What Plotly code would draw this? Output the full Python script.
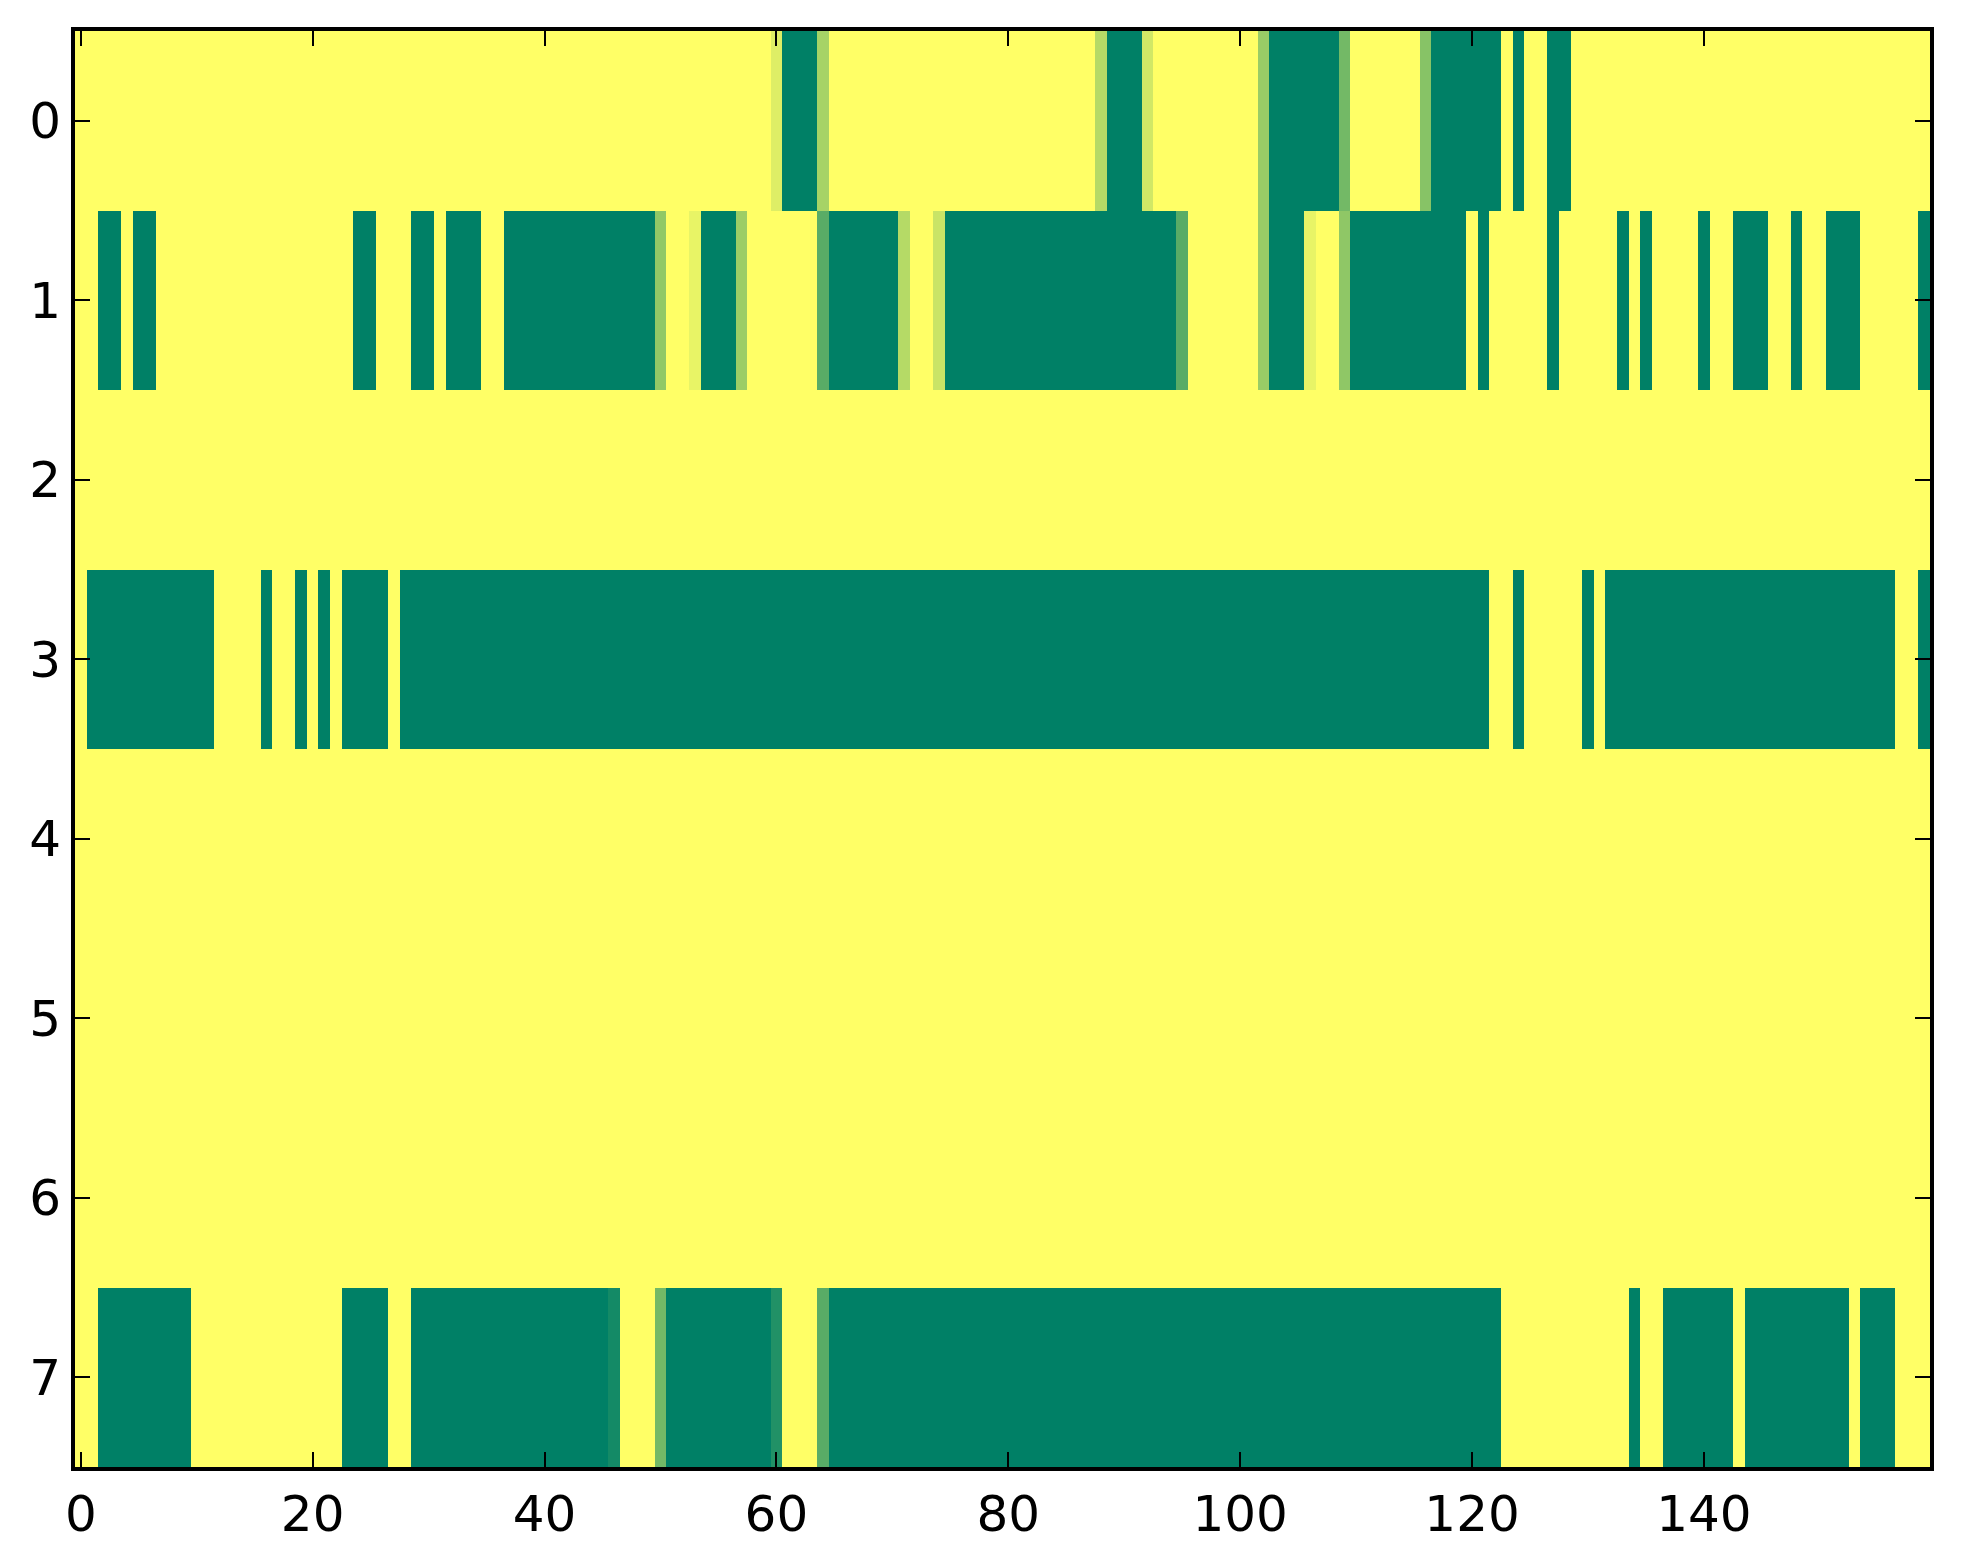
import plotly.graph_objects as go

# Cell values per row (0 = yellow, 1 = green), 160 columns each
row0 = [
    0, 0, 0, 0, 0, 0, 0, 0, 0, 0, 0, 0, 0, 0, 0, 0, 0, 0, 0, 0,
    0, 0, 0, 0, 0, 0, 0, 0, 0, 0, 0, 0, 0, 0, 0, 0, 0, 0, 0, 0,
    0, 0, 0, 0, 0, 0, 0, 0, 0, 0, 0, 0, 0, 0, 0, 0, 0, 0, 0, 0,
    0.13, 1, 1, 1, 0.35, 0, 0, 0, 0, 0, 0, 0, 0, 0, 0, 0, 0, 0, 0, 0,
    0, 0, 0, 0, 0, 0, 0, 0, 0.29, 1, 1, 1, 0.18, 0, 0, 0, 0, 0, 0, 0,
    0, 0, 0.40, 1, 1, 1, 1, 1, 1, 0.55, 0, 0, 0, 0, 0, 0, 0.47, 1, 1, 1,
    1, 1, 1, 0, 1, 0, 0, 1, 1, 0, 0, 0, 0, 0, 0, 0, 0, 0, 0, 0,
    0, 0, 0, 0, 0, 0, 0, 0, 0, 0, 0, 0, 0, 0, 0, 0, 0, 0, 0, 0,
]
row1 = [
    0, 0, 1, 1, 0, 1, 1, 0, 0, 0, 0, 0, 0, 0, 0, 0, 0, 0, 0, 0,
    0, 0, 0, 0, 1, 1, 0, 0, 0, 1, 1, 0, 1, 1, 1, 0, 0, 1, 1, 1,
    1, 1, 1, 1, 1, 1, 1, 1, 1, 1, 0.43, 0, 0, 0.09, 1, 1, 1, 0.39, 0, 0,
    0, 0, 0, 0, 0.65, 1, 1, 1, 1, 1, 1, 0.29, 0, 0, 0.21, 1, 1, 1, 1, 1,
    1, 1, 1, 1, 1, 1, 1, 1, 1, 1, 1, 1, 1, 1, 1, 0.65, 0, 0, 0, 0,
    0, 0, 0.40, 1, 1, 1, 0.09, 0, 0, 0.44, 1, 1, 1, 1, 1, 1, 1, 1, 1, 1,
    0, 1, 0, 0, 0, 0, 0, 1, 0, 0, 0, 0, 0, 1, 0, 1, 0, 0, 0, 0,
    1, 0, 0, 1, 1, 1, 0, 0, 1, 0, 0, 1, 1, 1, 0, 0, 0, 0, 0, 1,
]
row2 = [
    0, 0, 0, 0, 0, 0, 0, 0, 0, 0, 0, 0, 0, 0, 0, 0, 0, 0, 0, 0,
    0, 0, 0, 0, 0, 0, 0, 0, 0, 0, 0, 0, 0, 0, 0, 0, 0, 0, 0, 0,
    0, 0, 0, 0, 0, 0, 0, 0, 0, 0, 0, 0, 0, 0, 0, 0, 0, 0, 0, 0,
    0, 0, 0, 0, 0, 0, 0, 0, 0, 0, 0, 0, 0, 0, 0, 0, 0, 0, 0, 0,
    0, 0, 0, 0, 0, 0, 0, 0, 0, 0, 0, 0, 0, 0, 0, 0, 0, 0, 0, 0,
    0, 0, 0, 0, 0, 0, 0, 0, 0, 0, 0, 0, 0, 0, 0, 0, 0, 0, 0, 0,
    0, 0, 0, 0, 0, 0, 0, 0, 0, 0, 0, 0, 0, 0, 0, 0, 0, 0, 0, 0,
    0, 0, 0, 0, 0, 0, 0, 0, 0, 0, 0, 0, 0, 0, 0, 0, 0, 0, 0, 0,
]
row3 = [
    0, 1, 1, 1, 1, 1, 1, 1, 1, 1, 1, 1, 0, 0, 0, 0, 1, 0, 0, 1,
    0, 1, 0, 1, 1, 1, 1, 0, 1, 1, 1, 1, 1, 1, 1, 1, 1, 1, 1, 1,
    1, 1, 1, 1, 1, 1, 1, 1, 1, 1, 1, 1, 1, 1, 1, 1, 1, 1, 1, 1,
    1, 1, 1, 1, 1, 1, 1, 1, 1, 1, 1, 1, 1, 1, 1, 1, 1, 1, 1, 1,
    1, 1, 1, 1, 1, 1, 1, 1, 1, 1, 1, 1, 1, 1, 1, 1, 1, 1, 1, 1,
    1, 1, 1, 1, 1, 1, 1, 1, 1, 1, 1, 1, 1, 1, 1, 1, 1, 1, 1, 1,
    1, 1, 0, 0, 1, 0, 0, 0, 0, 0, 1, 0, 1, 1, 1, 1, 1, 1, 1, 1,
    1, 1, 1, 1, 1, 1, 1, 1, 1, 1, 1, 1, 1, 1, 1, 1, 1, 0, 0, 1,
]
row4 = list(row2)
row5 = list(row2)
row6 = list(row2)
row7 = [
    0, 0, 1, 1, 1, 1, 1, 1, 1, 1, 0, 0, 0, 0, 0, 0, 0, 0, 0, 0,
    0, 0, 0, 1, 1, 1, 1, 0, 0, 1, 1, 1, 1, 1, 1, 1, 1, 1, 1, 1,
    1, 1, 1, 1, 1, 1, 0.92, 0, 0, 0, 0.55, 1, 1, 1, 1, 1, 1, 1, 1, 1,
    0.87, 0, 0, 0, 0.65, 1, 1, 1, 1, 1, 1, 1, 1, 1, 1, 1, 1, 1, 1, 1,
    1, 1, 1, 1, 1, 1, 1, 1, 1, 1, 1, 1, 1, 1, 1, 1, 1, 1, 1, 1,
    1, 1, 1, 1, 1, 1, 1, 1, 1, 1, 1, 1, 1, 1, 1, 1, 1, 1, 1, 1,
    1, 1, 1, 0, 0, 0, 0, 0, 0, 0, 0, 0, 0, 0, 1, 0, 0, 1, 1, 1,
    1, 1, 1, 0, 1, 1, 1, 1, 1, 1, 1, 1, 1, 0, 1, 1, 1, 0, 0, 0,
]

x_ticks = [0, 20, 40, 60, 80, 100, 120, 140]
y_ticks = [0, 1, 2, 3, 4, 5, 6, 7]

z = [row0, row1, row2, row3, row4, row5, row6, row7]

fig = go.Figure(
    go.Heatmap(
        z=z,
        colorscale=[[0, "#ffff66"], [1, "#008066"]],
        zmin=0,
        zmax=1,
        showscale=False,
        hoverinfo="skip",
    )
)

axis_common = dict(
    showgrid=False,
    zeroline=False,
    showline=True,
    linecolor="black",
    linewidth=4,
    mirror="ticks",
    ticks="inside",
    ticklen=15,
    tickwidth=2,
    tickcolor="black",
    tickfont=dict(family="DejaVu Sans", size=50, color="black"),
)

fig.update_layout(
    width=1947,
    height=1548,
    margin=dict(l=67, r=25, t=23, b=89),
    paper_bgcolor="white",
    plot_bgcolor="white",
    xaxis=dict(range=[-0.5, 159.5], tickvals=x_ticks, **axis_common),
    yaxis=dict(range=[7.5, -0.5], tickvals=y_ticks, **axis_common),
)

fig.write_html("out.html")
